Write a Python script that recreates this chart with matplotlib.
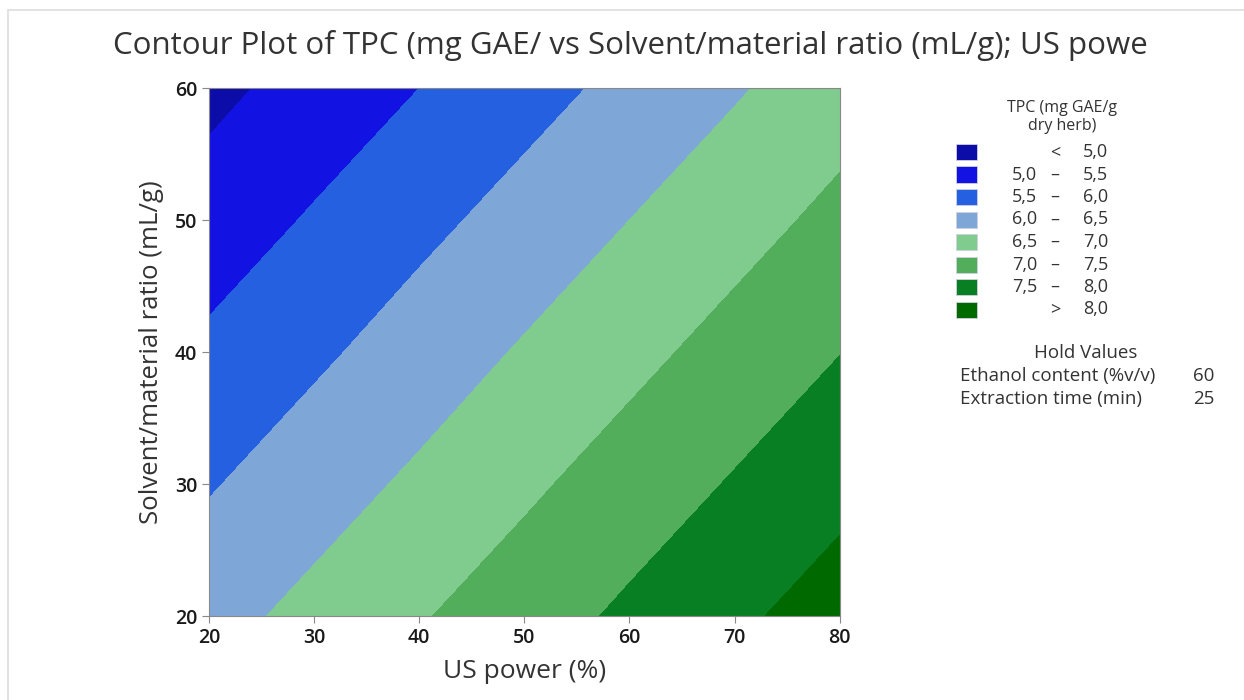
import numpy as np
import matplotlib
matplotlib.use("Agg")
import matplotlib.pyplot as plt
from matplotlib.patches import Rectangle

# ======================
# |       DATA         |
# ======================
us_power = [20, 30, 40, 50, 60, 70, 80]
solvent_ratio = [20, 30, 40, 50, 60]
# TPC (rows = solvent ratio, cols = US power)
tpc = [
    [6.33, 6.64, 6.96, 7.27, 7.59, 7.91, 8.22],
    [5.96, 6.28, 6.59, 6.91, 7.23, 7.54, 7.86],
    [5.60, 5.91, 6.23, 6.55, 6.86, 7.18, 7.49],
    [5.23, 5.55, 5.87, 6.18, 6.50, 6.81, 7.13],
    [4.87, 5.19, 5.50, 5.82, 6.13, 6.45, 6.77],
]
levels = [0, 5.0, 5.5, 6.0, 6.5, 7.0, 7.5, 8.0, 20]
band_labels = [("", "<", "5,0"), ("5,0", "–", "5,5"), ("5,5", "–", "6,0"),
               ("6,0", "–", "6,5"), ("6,5", "–", "7,0"), ("7,0", "–", "7,5"),
               ("7,5", "–", "8,0"), ("", ">", "8,0")]
band_colors = ["#0c0ca8", "#1212e2", "#2560e0", "#7ea7d8",
               "#80cc8e", "#52ae5a", "#087f23", "#006a00"]
hold_names = ["Ethanol content (%v/v)", "Extraction time (min)"]
hold_values = ["60", "25"]

plt.rcParams["font.family"] = ["Open Sans", "DejaVu Sans"]

fig = plt.figure(figsize=(12.44, 7), dpi=100)
ax = fig.add_axes([0.168, 0.12, 0.507, 0.754])

X, Y = np.meshgrid(us_power, solvent_ratio)
ax.contourf(X, Y, np.array(tpc), levels=levels, colors=band_colors)

ax.set_xlim(20, 80)
ax.set_ylim(20, 60)
ax.set_xticks([20, 30, 40, 50, 60, 70, 80])
ax.set_yticks([20, 30, 40, 50, 60])
ax.tick_params(labelsize=14, colors="#888888", labelcolor="#1a1a1a", length=5)
for lab in ax.get_xticklabels() + ax.get_yticklabels():
    lab.set_fontweight("semibold")
for s in ax.spines.values():
    s.set_color("#888888")
ax.set_xlabel("US power (%)", fontsize=19, color="#333333", labelpad=8)
ax.set_ylabel("Solvent/material ratio (mL/g)", fontsize=18.5, color="#333333", labelpad=8)

fig.text(0.507, 0.935, "Contour Plot of TPC (mg GAE/ vs Solvent/material ratio (mL/g); US powe",
         ha="center", va="center", fontsize=22.5, color="#333333")

# legend drawn by hand
fig.text(1062 / 1244, 1 - 117 / 700, "TPC (mg GAE/g\ndry herb)", ha="center", va="center",
         fontsize=11.5, color="#333333", linespacing=1.15)
for i, (lo, dash, hi) in enumerate(band_labels):
    yc = 1 - (152 + i * 22.5) / 700
    fig.patches.append(Rectangle((956 / 1244, yc - 8 / 700), 21 / 1244, 16 / 700,
                                 transform=fig.transFigure, facecolor=band_colors[i],
                                 edgecolor="#d0d0e0", linewidth=0.6))
    fig.text(1037 / 1244, yc, lo, ha="right", va="center", fontsize=13, color="#333333")
    fig.text(1055 / 1244, yc, dash, ha="center", va="center", fontsize=13, color="#333333")
    fig.text(1108 / 1244, yc, hi, ha="right", va="center", fontsize=13, color="#333333")

fig.text(1086 / 1244, 1 - 353 / 700, "Hold Values", ha="center", va="center",
         fontsize=13.5, color="#333333")
for i, (name, val) in enumerate(zip(hold_names, hold_values)):
    yc = 1 - (376 + i * 23) / 700
    fig.text(960 / 1244, yc, name, ha="left", va="center", fontsize=13.5, color="#333333")
    fig.text(1214 / 1244, yc, val, ha="right", va="center", fontsize=13.5, color="#333333")

# faint frame around the figure
fig.patches.append(Rectangle((8 / 1244, -0.01), 1.1, 1 - 10 / 700 + 0.01,
                             transform=fig.transFigure, facecolor="none",
                             edgecolor="#dddddd", linewidth=1.2))

fig.savefig("out.png", dpi=100)
